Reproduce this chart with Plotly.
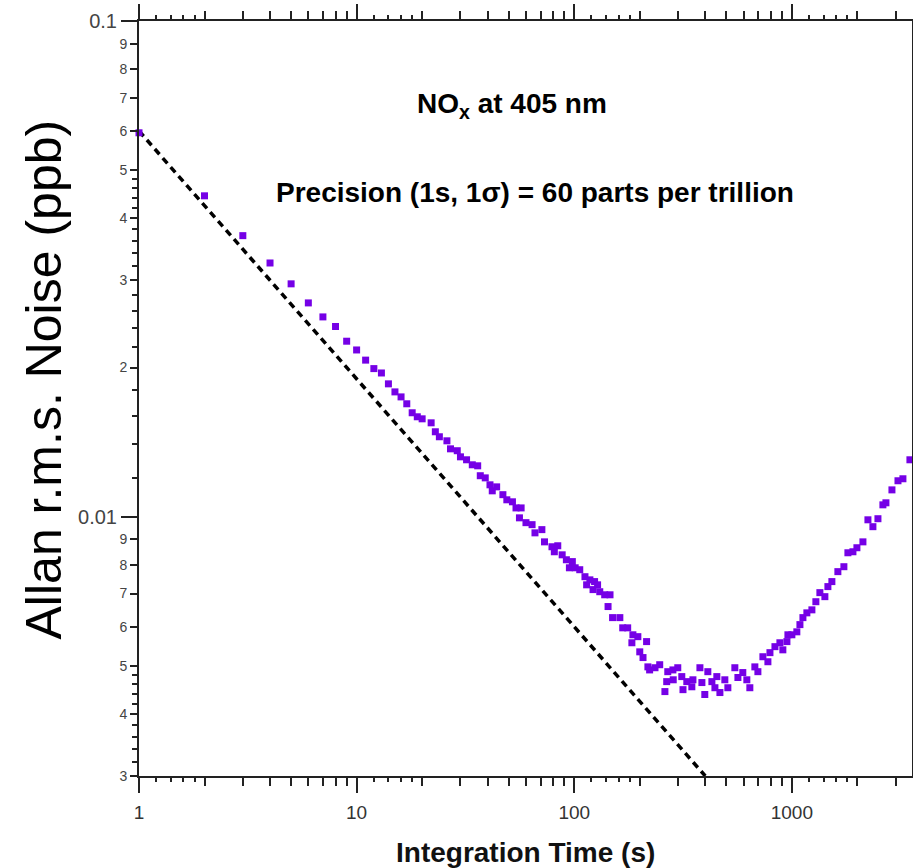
import plotly.graph_objects as go

# ---- data ----
t_s = [1, 2, 3, 4, 5, 6, 7, 8, 9, 10, 11, 12,
       13, 14, 15, 16, 17, 18, 19, 20, 22, 23, 24, 26, 27, 29, 30, 32, 34, 36, 37, 39,
       41, 42, 44, 47, 49, 52, 54, 56, 57, 60, 64, 66, 71, 73, 79, 81, 84, 88, 92, 95, 98,
       101, 106, 112, 114, 118, 122, 124, 128, 131, 138, 143, 146, 150, 162, 167, 176,
       184, 186, 196, 200, 207, 215, 218, 222, 235, 247, 261, 266, 269, 284, 285, 299,
       312, 316, 329, 347, 351, 378, 386, 398, 411, 429, 443, 452, 467, 492, 508, 547,
       565, 595, 621, 641, 676, 698, 736, 776, 793, 836, 881, 909, 949, 959, 1000, 1054,
       1089, 1124, 1172, 1236, 1289, 1345, 1418, 1464, 1527, 1627, 1734, 1809, 1908,
       1990, 2121, 2236, 2357, 2486, 2620, 2705, 2883, 3073, 3238, 3487]
noise_ppb = [0.0595, 0.0444, 0.0369, 0.0325, 0.0295, 0.0270, 0.0253, 0.0242, 0.0226, 0.0217,
             0.0207, 0.0199,
             0.0195, 0.01854, 0.01786, 0.01745, 0.0169, 0.01621, 0.01591, 0.01576, 0.01547,
             0.01484, 0.0145, 0.01423, 0.01371, 0.01359, 0.01321, 0.01303, 0.01273, 0.01267,
             0.0121, 0.01198, 0.0116, 0.01128, 0.01149, 0.01108, 0.01082, 0.01072, 0.01042,
             0.00995, 0.01042, 0.00973, 0.00964, 0.00928, 0.00942, 0.0089, 0.0087, 0.0085,
             0.00874, 0.00838, 0.00819, 0.00789, 0.00812,
             0.00789, 0.00782, 0.00757, 0.00729, 0.00746, 0.00713, 0.0074, 0.00729, 0.00706,
             0.00696, 0.00659, 0.00696, 0.00626, 0.00626, 0.00597, 0.00597, 0.00557, 0.00578,
             0.00573, 0.00534, 0.0052, 0.0056, 0.00498, 0.00491, 0.00496, 0.00503, 0.00444,
             0.00465, 0.00487, 0.00491, 0.00469, 0.00496, 0.00476, 0.00448, 0.00465, 0.00454,
             0.00469, 0.00496, 0.00463, 0.00438, 0.00487, 0.00465, 0.00452, 0.00476, 0.00442,
             0.00469, 0.00452, 0.00496, 0.00474, 0.00485, 0.00469, 0.00452, 0.00498, 0.00487,
             0.00522, 0.0051, 0.00532, 0.00547, 0.00557, 0.00539, 0.0056, 0.00578, 0.00578,
             0.00586, 0.00606, 0.00626, 0.0064, 0.00649, 0.00674, 0.00703, 0.0069, 0.00723,
             0.0074, 0.00775, 0.00793, 0.00846, 0.0085, 0.00866, 0.0089, 0.00986, 0.00955,
             0.00991, 0.01057, 0.01067, 0.01133, 0.01182, 0.01193, 0.01303]

# white-noise reference line (1/sqrt(t)), endpoints
ref_t = [1, 400]
ref_noise = [0.06, 0.003]

# ---- ticks ----
x_major = [1, 10, 100, 1000]
x_major_text = ["1", "10", "100", "1000"]
x_minor = [2, 3, 4, 5, 6, 7, 8, 9, 20, 30, 40, 50, 60, 70, 80, 90,
           200, 300, 400, 500, 600, 700, 800, 900, 2000, 3000]
x_sub = [1.2, 1.4, 1.6, 1.8, 12, 14, 16, 18, 120, 140, 160, 180, 1200, 1400, 1600, 1800]

y_major = [0.01, 0.1]
y_major_text = ["0.01", "0.1"]
y_minor = [0.09, 0.08, 0.07, 0.06, 0.05, 0.04, 0.03, 0.02,
           0.009, 0.008, 0.007, 0.006, 0.005, 0.004, 0.003]
y_minor_text = ["9", "8", "7", "6", "5", "4", "3", "2",
                "9", "8", "7", "6", "5", "4", "3"]
y_sub = [0.012, 0.014, 0.016, 0.018, 0.022, 0.024, 0.026, 0.028,
         0.032, 0.034, 0.036, 0.038, 0.042, 0.044, 0.046, 0.048,
         0.0032, 0.0034, 0.0036, 0.0038, 0.0042, 0.0044, 0.0046, 0.0048]

XR = [0, 3.552]
YR = [-2.5229, -1]
FONT = "Liberation Sans, Arial, Helvetica, sans-serif"
AX = "#222222"

fig = go.Figure()
fig.add_trace(go.Scatter(x=ref_t, y=ref_noise, mode="lines",
                         line=dict(color="black", width=3.5, dash="7px,5px"),
                         showlegend=False, hoverinfo="skip"))
fig.add_trace(go.Scatter(x=t_s, y=noise_ppb, mode="markers",
                         marker=dict(symbol="square", size=7, color="#7500E6",
                                     line=dict(width=0)),
                         cliponaxis=False, showlegend=False))
# dummy trace for overlay axes
fig.add_trace(go.Scatter(x=[None], y=[None], xaxis="x2", yaxis="y2",
                         showlegend=False, hoverinfo="skip"))

common = dict(type="log", showgrid=False, zeroline=False, automargin=False)

fig.update_layout(
    width=913, height=868, autosize=False,
    margin=dict(l=139, r=1, t=21, b=92, autoexpand=False),
    paper_bgcolor="white", plot_bgcolor="white",
    font=dict(family=FONT, color="#333"),
    xaxis=dict(**common, range=XR,
               showline=True, linecolor=AX, linewidth=2, mirror="ticks",
               ticks="outside", ticklen=15, tickwidth=2, tickcolor=AX,
               tickmode="array", tickvals=x_major, ticktext=x_major_text,
               tickfont=dict(size=19, color="#333"), ticklabelstandoff=3,
               minor=dict(tickmode="array", tickvals=x_minor, ticks="outside",
                          ticklen=8, tickwidth=2, tickcolor=AX)),
    yaxis=dict(**common, range=YR,
               showline=True, linecolor=AX, linewidth=2, mirror="ticks",
               ticks="outside", ticklen=16, tickwidth=2, tickcolor=AX,
               tickmode="array", tickvals=y_major, ticktext=y_major_text,
               tickfont=dict(size=20, color="#444"),
               minor=dict(tickmode="array", tickvals=y_sub, ticks="outside",
                          ticklen=5, tickwidth=1.5, tickcolor=AX)),
    xaxis2=dict(**common, range=XR, overlaying="x", anchor="y2", side="bottom",
                showline=False, mirror="ticks",
                ticks="outside", ticklen=5, tickwidth=1.5, tickcolor=AX,
                tickmode="array", tickvals=x_sub, showticklabels=False),
    yaxis2=dict(**common, range=YR, overlaying="y", anchor="x2", side="left",
                showline=False, mirror="ticks",
                ticks="outside", ticklen=8, tickwidth=2, tickcolor=AX,
                tickmode="array", tickvals=y_minor, ticktext=y_minor_text,
                tickfont=dict(size=14, color="#444")),
    annotations=[
        dict(text="<b>NO<sub>x</sub> at 405 nm</b>", xref="paper", yref="paper",
             x=0.4819, y=0.8887, xanchor="center", yanchor="middle", showarrow=False,
             font=dict(size=28, color="black", family=FONT)),
        dict(text="<b>Precision (1s, 1σ) = 60 parts per trillion</b>", xref="paper",
             yref="paper", x=0.5123, y=0.7735, xanchor="center", yanchor="middle",
             showarrow=False, font=dict(size=28, color="black", family=FONT)),
        dict(text="<b>Integration Time (s)</b>", xref="paper", yref="paper",
             x=0.5006, y=-0.1007, xanchor="center", yanchor="middle", showarrow=False,
             font=dict(size=28, color="#111", family=FONT)),
        dict(text="Allan r.m.s. Noise (ppb)", xref="paper", yref="paper",
             x=-0.1223, y=0.5258, xanchor="center", yanchor="middle", showarrow=False,
             textangle=-90, font=dict(size=50, color="black", family=FONT)),
    ],
)

post = ("document.documentElement.style.margin='0';"
        "document.documentElement.style.overflow='hidden';"
        "document.body.style.margin='0';document.body.style.padding='0';"
        "document.body.style.overflow='hidden';"
        "var gd=document.getElementById('{plot_id}');"
        "Plotly.relayout(gd,{width:913,height:868});")

fig.write_html("out.html", config={"responsive": False, "displayModeBar": False},
               post_script=post)
